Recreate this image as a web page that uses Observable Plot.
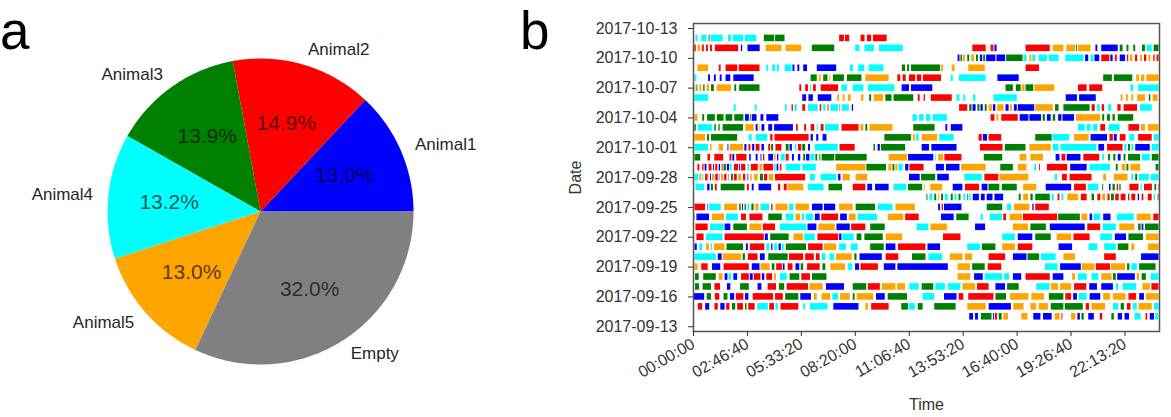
<!DOCTYPE html>
<html><head><meta charset="utf-8">
<script src="https://cdn.jsdelivr.net/npm/d3@7"></script>
<script src="https://cdn.jsdelivr.net/npm/@observablehq/plot@0.6"></script>
<style>
body{margin:0;background:#fff;font-family:"Liberation Sans",Arial,sans-serif;}
#wrap{position:relative;width:1171px;height:417px;overflow:hidden;background:#fff;}
.panel{position:absolute;top:0;}
.letter{position:absolute;font-size:53px;line-height:normal;color:#000;white-space:nowrap;}
</style></head>
<body><div id="wrap">
<div id="pa" class="panel" style="left:0;width:520px;height:417px"></div>
<div id="pb" class="panel" style="left:520px;width:651px;height:417px"></div>
<div class="letter" style="left:0px;top:0px">a</div>
<div class="letter" style="left:520px;top:0px">b</div>
</div>
<script>
// ---------- panel a data ----------
const pieLabels = ["Animal1","Animal2","Animal3","Animal4","Animal5","Empty"];
const pieValues = [13.0, 14.9, 13.9, 13.2, 13.0, 32.0];
const pieColors = ["#0000ff","#ff0000","#008000","#00ffff","#ffa500","#808080"];

// ---------- panel b data ----------
const animals = ["Animal1","Animal2","Animal3","Animal4","Animal5"];
const animalCodes = ["b","r","g","c","o"];
const animalColors = ["#0000ff","#ff0000","#008000","#00ffff","#ffa500"];
const rowDates = ["2017-09-14","2017-09-15","2017-09-16","2017-09-17","2017-09-18","2017-09-19","2017-09-20","2017-09-21","2017-09-22","2017-09-23","2017-09-24","2017-09-25","2017-09-26","2017-09-27","2017-09-28","2017-09-29","2017-09-30","2017-10-01","2017-10-02","2017-10-03","2017-10-04","2017-10-05","2017-10-06","2017-10-07","2017-10-08","2017-10-09","2017-10-10","2017-10-11","2017-10-12"];
// visits per day: start-end (hours) + animal code
const rowVisits = [
"14.2-14.45b 14.5-14.7b 14.8-15.4g 15.42-15.52b 15.52-15.68r 15.72-15.92g 15.95-16.25o 16.88-17.25o 17.5-17.92b 18.0-18.5b 18.6-18.9o 18.95-19.05r 19.45-19.72o 19.77-19.95b 19.98-20.15g 20.33-20.67b 20.92-21.1r 21.52-21.7g 21.85-22.12b 22.2-22.48b 22.72-23.08c 23.28-23.42r 23.5-23.77b 23.78-23.98c",
"0.22-0.5r 0.6-0.86b 1.08-1.3r 1.38-1.65b 1.68-1.9r 1.98-2.2g 2.25-2.6r 2.65-2.78g 2.82-3.2r 3.28-3.88c 3.9-4.2r 4.22-4.4c 4.48-5.45r 5.65-5.8c 6.0-6.95c 7.2-8.55b 8.85-9.03o 9.15-10.1r 10.7-11.1g 11.1-11.45c 11.55-11.85g 12.4-13.55g 14.1-15.1o 15.2-16.4b 16.47-17.05o 17.35-17.7o 17.78-18.3o 18.4-19.1g 19.12-20.1g 20.2-20.42r 20.5-21.25o 21.6-21.92c 22.0-22.22g 22.32-22.56r 22.62-22.88c 22.92-23.65o 23.72-24c",
"0.02-0.6b 0.68-0.95g 1.1-1.38r 1.55-1.8g 1.88-2.15b 2.18-2.62r 2.65-2.88b 3.05-4.15r 4.2-4.65r 4.72-5.45g 5.5-6.1b 6.2-6.4o 6.6-7.1o 7.15-7.5c 7.55-8.1o 8.2-8.35g 8.4-9.3o 9.4-9.9b 10.0-11.05g 11.8-12.45c 12.9-13.6b 13.65-13.95r 14.15-15.5r 15.55-16.15g 16.3-17.3o 17.4-18.1o 18.3-19.1g 19.15-19.5r 19.55-19.8b 19.85-20.3c 20.4-21.0b 21.1-21.5o 21.6-22.3o 22.4-22.85r 22.95-23.25b 23.3-24o",
"0.08-0.33g 0.47-0.95g 1.08-1.42r 1.72-1.95b 2.4-2.9g 3.3-3.55b 3.82-4.3r 4.4-4.72g 4.8-5.95r 5.98-6.7o 6.82-7.8b 8.2-8.95g 8.98-9.65r 9.7-10.45o 10.48-10.95o 11.12-11.65c 11.75-12.4g 12.45-13.0c 13.1-13.8c 13.85-14.55o 14.6-15.25r 15.55-16.1b 16.15-16.8g 17.65-18.38c 18.4-18.82o 18.88-19.5o 19.6-20.28r 20.38-20.83b 21.0-21.65b 21.75-21.92c 22.1-22.85c 23.12-23.55o 23.58-24r",
"0.08-0.32g 0.5-1.2g 1.3-1.55o 1.6-1.8b 1.8-2.0c 2.05-2.3b 2.45-2.9r 2.9-3.1b 3.1-3.5r 3.52-3.7b 3.75-4.1r 4.15-4.3o 4.45-4.85c 4.95-5.5g 5.55-6.05r 6.1-6.9g 13.6-14.3o 14.45-14.95b 15.0-15.95c 16.0-16.3c 16.45-16.93b 17.1-18.4r 18.5-19.1b 19.5-19.7o 19.8-20.3c 20.5-20.9c 21.0-21.58o 21.6-21.8g 21.82-22.78b 22.83-23.0o 23.08-23.35g 23.55-24c",
"0.05-0.26o 0.4-0.78r 0.95-1.43b 1.55-2.9r 3.0-3.45b 3.45-3.97o 4.03-4.22g 4.26-4.6r 4.6-4.74b 4.85-5.15r 5.25-5.5b 5.52-5.7g 5.85-6.55r 6.64-6.84g 7.05-7.85o 7.95-8.22c 8.32-8.58b 8.6-9.55r 9.8-10.45b 10.5-13.15b 13.6-14.3o 14.35-15.05g 15.15-15.9r 18.1-18.8c 18.88-20.0b 20.0-20.7o 20.72-21.5r 21.5-22.28o 22.33-22.5g 22.55-22.88c 22.95-23.85g",
"0.05-1.2c 1.25-1.5b 1.5-2.5o 2.53-2.7g 2.8-3.35r 3.42-3.72b 3.85-4.9g 4.92-5.7r 5.75-6.25r 6.3-6.55r 6.6-6.85c 7.0-7.3c 7.33-8.2o 8.28-8.45g 8.55-9.75b 9.9-10.6r 11.25-12.0g 12.1-12.85c 13.2-13.9o 13.98-14.4o 15.2-16.1r 16.45-17.2b 17.2-17.85g 17.9-18.7c 19.05-19.7o 21.15-21.8r 23.05-24b",
"0.05-0.22b 0.3-0.5c 0.65-0.85o 0.88-1.0c 1.05-1.65o 1.7-2.6g 2.7-2.85b 2.9-3.7r 3.75-3.95c 4.0-4.12b 4.15-4.35c 4.38-4.55b 4.55-4.7c 4.75-5.85g 5.9-6.7r 6.72-7.4o 7.5-7.9c 8.1-8.5c 9.1-9.85g 9.9-10.45b 10.53-12.0r 12.05-12.75b 14.1-14.8c 14.85-15.6g 15.9-16.6o 16.7-17.5r 18.8-19.55b 20.35-20.85c 21.15-21.8c 21.85-22.45g 22.55-22.75o 23.4-24o",
"0.15-0.57r 0.64-1.55c 1.6-3.67r 3.67-3.88b 3.95-4.95g 5.15-5.7o 5.7-6.3c 6.38-7.5r 7.5-7.67b 7.67-8.3c 8.4-8.7g 8.8-9.8g 9.9-10.8o 12.85-13.8r 15.9-16.6c 16.7-17.5b 17.6-18.45g 18.7-19.5o 19.57-20.45r 20.95-21.6c 21.7-22.33b 22.4-23.2g 23.3-24o",
"0.1-0.78r 0.85-1.6c 1.6-1.95b 2.05-2.8g 2.88-3.55o 3.57-4.25r 4.45-5.85c 5.87-6.38b 6.43-7.33o 7.36-8.1b 8.12-8.9r 9.1-9.9g 11.5-12.15c 12.2-13.1o 14.5-15.07b 16.45-17.28o 17.35-18.2g 18.35-20.2b 20.28-21.0r 21.07-21.8c 21.93-22.75o 22.9-23.08g 23.08-23.22b 23.25-24g",
"0.05-0.12g 0.15-0.85b 0.95-1.62o 1.68-2.33c 2.45-2.75r 2.88-3.6r 3.85-4.6g 4.75-5.2c 5.25-5.55o 5.58-5.75c 5.8-6.2c 6.25-6.55b 6.58-7.5r 7.55-7.95b 8.0-8.4o 8.45-9.5c 10.0-10.85o 10.9-11.65r 12.75-13.45b 13.53-14.22g 14.8-14.95c 15.25-15.94c 15.95-16.15r 16.28-16.97o 16.97-18.78r 18.78-19.95g 19.98-20.33o 20.4-20.58b 20.6-21.0c 21.1-21.53b 21.8-22.73c 22.82-23.6o 23.68-24r",
"0.05-0.65r 0.7-0.78b 0.8-1.45c 1.58-2.3o 2.35-2.48g 2.5-2.6b 2.63-2.75g 2.78-2.92c 2.98-3.15g 3.18-3.4o 3.45-3.95c 4.0-4.12r 4.22-4.9o 4.92-5.2c 5.25-6.0o 6.1-6.7b 6.72-7.35b 7.5-8.25o 8.35-9.4g 9.5-10.3c 10.4-11.45o 12.6-12.75b 12.78-12.9r 12.9-13.85b 15.1-15.95g 16.15-16.4c 16.5-17.35o 17.45-17.57b 17.6-18.35r",
"12.0-12.1g 12.15-12.35c 12.4-12.55g 12.6-12.7o 12.75-12.9g 12.95-13.15c 13.25-13.4g 13.45-13.6c 13.65-13.8g 13.9-14.05c 14.1-14.2g 14.2-14.33c 14.38-14.75b 14.8-15.05b 15.1-15.45b 15.5-16.0b 16.75-16.9g 16.98-17.28o 17.35-17.52g 17.6-18.4g 18.45-18.6c 18.75-18.9r 18.95-19.1c 19.25-19.85o 19.95-20.3r 20.5-20.68g 20.8-21.0r 21.05-21.25o 21.32-21.48r 21.5-21.7g 21.72-21.95r 22.0-22.3r 22.38-22.5g 22.55-22.8r 22.88-23.0b 23.08-23.22r 23.4-23.65r 23.7-23.82c 23.9-24r",
"0.1-0.6c 0.7-0.88b 0.9-1.05g 1.1-1.25r 1.4-2.68g 2.75-2.9r 3.0-3.15b 3.35-4.05b 4.35-4.52r 4.65-4.85r 4.85-5.7o 5.9-6.75c 6.95-7.7g 8.2-8.9r 8.95-9.25b 9.35-10.1b 10.3-11.0c 11.05-11.83g 11.88-11.97o 12.19-12.86o 13.35-13.9b 13.98-14.76r 14.84-15.19b 15.19-15.8g 15.88-16.7g 16.98-17.7o 18.14-19.5b 19.6-20.26r 20.3-20.9c 21.05-21.15g 21.4-21.53b 21.58-21.75g 21.8-21.92r 21.93-22.05g 22.45-22.97r 23.02-23.14c 23.2-23.66r 23.74-23.88g 23.92-24r",
"0.05-0.3c 0.3-0.45o 0.45-0.55c 0.6-0.78r 0.85-0.95b 0.95-1.12o 1.12-1.3r 1.3-1.38b 1.42-1.58o 1.58-1.75r 1.8-1.87b 1.93-2.08g 2.08-2.28r 2.3-2.5o 2.55-2.72r 2.78-2.87b 2.92-3.05o 3.12-3.35o 3.42-3.63g 3.63-3.85r 3.88-4.15o 4.2-5.8r 6.0-6.3c 6.55-7.4c 7.45-7.62b 7.68-8.1o 8.35-9.0o 11.1-11.7b 11.72-12.5g 12.55-13.2b 13.95-14.9c 14.98-15.75r 15.76-17.3o 18.6-18.77c 18.98-19.28r 19.37-20.55r 21.1-21.3o 21.65-22.4o 22.55-22.7c 22.75-22.9g 22.95-23.5c 23.55-24c",
"0.2-0.35r 0.45-0.57r 0.57-0.72b 0.78-0.98r 1.0-1.1b 1.12-1.28r 1.3-1.42b 1.45-1.55r 1.55-1.72g 1.72-1.88b 1.88-2.02c 2.08-2.35r 2.35-2.45b 2.45-2.72r 2.78-2.92c 2.95-3.36r 3.4-3.58o 3.6-4.15r 4.15-4.28c 4.28-4.42b 4.45-4.58r 4.75-5.55c 5.6-6.35c 7.35-8.9o 8.9-9.97g 10.04-10.25o 10.25-10.4g 10.4-10.55o 10.55-10.82c 10.9-11.12b 11.12-11.9r 12.48-12.95b 13.0-13.75b 13.78-15.1o 15.8-16.5g 16.7-17.2o 17.55-17.7c 17.8-17.9r 18.2-19.3r 19.4-20.3b 20.4-21.5c 21.75-21.9g 22.05-22.3o 22.3-22.45g 22.5-23.05o 23.8-24g",
"0.05-0.4g 0.72-0.9r 1.07-1.58r 1.85-2.0r 2.0-2.15b 2.2-2.78r 2.87-3.0b 3.2-3.35b 3.45-3.55b 3.58-3.7r 3.85-4.15b 4.15-4.28o 4.3-4.42b 4.5-4.75c 4.75-4.95r 5.07-5.22b 5.38-5.55b 5.65-5.8g 5.8-6.02b 6.02-6.28c 6.28-6.42g 6.48-6.58g 6.6-7.3g 7.3-8.97g 10.05-11.05o 11.05-12.4b 12.45-12.55c 12.6-12.9o 12.92-13.85r 14.95-15.95g 16.8-17.2o 17.35-18.05o 18.65-18.9b 18.95-19.2r 19.22-19.98b 20.08-20.95r 21.05-21.2c 21.35-21.5g 21.62-21.78g 21.85-22.05b 22.15-22.3g 22.38-23.05g 23.1-23.55c 23.6-24g",
"0.05-0.8c 0.85-0.98o 1.3-1.58o 1.75-1.85b 1.88-2.6o 2.62-2.78b 2.83-2.98r 3.02-3.18b 3.2-3.45r 3.5-3.68b 3.85-4.0r 4.0-4.15g 4.22-4.58r 4.75-4.95g 4.95-5.12b 5.22-5.35c 5.38-5.6r 5.6-5.8g 5.9-6.05b 6.25-7.48c 7.52-8.35r 9.27-9.4g 9.48-9.65b 9.65-10.95g 11.75-12.18b 12.25-13.6b 14.75-15.97r 16.03-17.15g 17.3-18.45o 18.5-18.85c 18.9-20.8c 20.85-21.2b 21.3-22.15r 22.18-22.35c 22.38-22.53g 22.55-22.7c 22.75-23.55b 23.6-24c",
"0.05-0.65o 0.7-0.85g 0.9-2.3g 2.85-3.05c 3.2-3.85c 3.95-4.12r 4.17-5.98r 6.03-6.2b 6.32-6.48b 6.65-6.9b 9.83-11.25g 11.3-11.45o 11.45-11.65c 11.75-12.6o 12.65-13.45c 14.68-14.9r 14.9-15.17b 15.2-15.9r 17.6-18.5g 18.5-19.4c 19.6-20.4o 20.45-21.35b 21.42-21.65r 21.65-21.85b 21.95-22.3r 22.45-22.75c 22.9-23.65r 23.7-24c",
"0.04-0.17g 0.22-1.0c 1.07-1.2g 1.28-1.4g 1.5-2.6g 2.67-3.15o 3.2-3.35b 3.35-3.45o 3.5-3.7b 3.85-4.1b 4.15-5.17b 5.28-5.42r 5.7-5.85r 6.03-6.27r 6.35-6.45c 6.55-6.75r 6.77-7.53c 7.62-8.55r 8.6-8.8o 8.85-9.0g 9.06-10.3o 11.32-12.47g 12.97-13.12b 13.25-13.9b 19.8-20.2c 20.25-20.5c 20.58-20.85c 20.95-21.25r 21.38-22.0c 22.4-23.0r 23.05-23.3o 23.4-24o",
"0.05-0.25o 0.45-0.6g 0.7-1.15g 1.2-1.6g 1.65-2.05g 2.1-2.62g 2.65-2.9b 2.9-3.0g 3.0-3.3b 3.45-3.65b 3.75-4.42b 11.28-11.55c 11.62-11.9c 11.97-12.25c 12.32-13.1c 15.3-15.55r 15.6-15.75o 15.85-16.75r 16.8-17.3b 17.3-17.95b 17.98-18.15g 18.2-18.45b 18.5-18.68g 18.78-19.0b 19.0-19.65b 19.7-21.0o 21.05-21.2g 21.3-21.5g 21.58-21.75g 21.85-22.7g",
"2.07-2.22c 3.15-3.3c 4.7-4.85c 5.05-5.17r 5.2-5.37c 5.6-5.8r 5.9-6.45c 6.5-6.63r 6.68-6.85c 6.9-7.0r 7.05-7.5c 7.52-7.6r 7.63-8.05c 8.15-8.27b 13.68-14.15r 14.2-14.37g 14.37-14.58b 14.62-14.78g 14.78-14.95b 15.0-15.15g 15.2-15.42o 15.42-15.6b 15.64-16.02o 16.07-16.28b 16.3-16.45o 16.5-16.7b 16.7-17.6b 17.6-18.55o 18.62-18.85g 19.05-20.45g 20.5-20.72r 20.77-20.98c 21.02-21.2r 21.35-21.57c 21.83-22.05r 22.15-22.9r 23.0-23.65c",
"0.05-0.8c 5.6-5.85b 5.92-6.2b 6.4-7.15b 7.4-7.55o 7.68-7.83o 7.95-8.15o 8.63-8.8o 9.05-9.2g 9.28-9.82o 9.88-10.25g 10.3-11.37g 11.55-11.7r 11.85-11.97r 12.22-13.35r 13.55-13.75c 13.9-14.05c 14.4-14.57c 15.45-16.7c 19.17-19.8b 19.86-20.77b 22.0-22.15o 22.27-22.42o 22.55-22.7o 22.85-23.3o 23.45-23.58g 23.65-23.95o",
"0.05-0.15o 0.15-0.25g 0.3-0.45o 0.5-0.62g 0.68-0.85o 0.9-1.1g 1.2-1.98o 2.1-2.25g 2.35-3.45g 5.45-5.6r 5.75-5.95r 6.0-6.1c 6.15-6.35r 6.55-7.5r 7.62-7.95c 8.2-8.8c 8.98-10.4c 10.72-11.15b 11.2-12.35b 16.07-16.5g 16.6-16.9g 16.9-17.1o 17.1-17.55g 17.56-18.63o 19.8-20.3r 20.38-21.1r 22.5-22.7c 22.9-24c",
"0.05-0.2c 0.75-0.9b 1.05-1.2b 1.35-1.5b 1.65-1.95b 2.05-3.15b 6.03-6.4g 6.45-6.6o 6.68-6.95g 7.0-7.1o 7.18-7.8g 7.9-8.7g 8.85-10.1o 10.5-10.7r 10.77-10.98r 11.1-11.47r 11.5-11.78r 11.82-12.8r 13.25-13.4c 13.67-15.1c 15.65-16.8b 21.1-21.6g 21.65-22.65g 22.8-23.0o 23.05-23.27o 23.32-24o",
"0.2-0.8o 1.3-1.45r 1.65-2.3r 2.33-3.45r 3.75-3.9c 4.05-4.25c 4.3-4.45c 4.7-5.1c 5.1-5.25b 5.35-5.5b 5.65-5.9b 6.35-7.4b 8.05-8.27c 8.48-8.85c 9.02-9.83c 10.73-10.95g 11.0-11.15g 11.2-12.75g 12.75-12.9o 13.3-13.5o 14.15-15.05o 17.1-17.85r",
"13.6-13.75b 13.75-13.88g 13.88-14.03o 14.1-14.25g 14.3-14.5o 14.55-14.7g 14.75-14.92b 14.92-15.07g 15.07-15.6b 15.6-16.1b 16.1-17.0g 17.0-17.2c 17.3-17.45o 17.45-17.65c 17.78-18.25c 18.3-18.85c 19.15-20.13c 20.17-20.38b 20.45-20.65c 20.65-20.95b 21.0-21.47r 21.47-21.64b 21.7-21.85r 21.95-22.28b 22.32-22.44r 22.48-22.65o 22.74-22.9r 23.0-23.15o 23.2-23.37r 23.43-23.58o 23.68-23.8r 23.85-24r",
"0.04-0.17r 0.21-0.38o 0.43-0.58r 0.64-0.79r 0.85-1.0r 1.1-2.35r 2.44-2.56b 2.78-3.46b 3.72-4.58o 4.74-5.6o 6.09-7.3g 8.33-8.6c 8.8-9.35c 9.55-10.83c 14.36-15.1r 15.3-15.5r 15.5-15.66b 17.1-18.4r 18.5-19.1o 19.2-19.7o 19.7-19.8g 19.8-20.5o 20.7-20.85b 21.0-21.9b 21.95-22.15g 22.3-22.45g 22.65-22.8g 23.1-23.3g 23.35-23.65c 23.7-24g",
"0.1-0.26c 0.4-0.72c 0.78-0.88g 0.88-1.55c 1.78-1.98c 2.03-2.6c 2.65-3.28c 3.62-4.2g 4.2-4.74g 7.5-7.8r 7.8-8.07r 8.6-8.86r 8.93-9.2r 9.24-10.0r"
];
const xTickSeconds = [0, 10000, 20000, 30000, 40000, 50000, 60000, 70000, 80000];
const yTickDates = ["2017-09-13","2017-09-16","2017-09-19","2017-09-22","2017-09-25","2017-09-28","2017-10-01","2017-10-04","2017-10-07","2017-10-10","2017-10-13"];

const FONT = '"Liberation Sans", Arial, Helvetica, sans-serif';

// ---------- panel a ----------
{
  const total = d3.sum(pieValues);
  const pts = [], inner = [], outer = [];
  let cum = 0;
  pieValues.forEach((v, i) => {
    const a0 = 2 * Math.PI * cum / total;
    const a1 = 2 * Math.PI * (cum + v) / total;
    cum += v;
    pts.push({label: pieLabels[i], x: 0, y: 0});
    const n = Math.max(2, Math.ceil((a1 - a0) / (Math.PI / 180)));
    for (let k = 0; k <= n; k++) {
      const a = a0 + (a1 - a0) * k / n;
      pts.push({label: pieLabels[i], x: Math.cos(a), y: Math.sin(a)});
    }
    const am = (a0 + a1) / 2;
    inner.push({x: 0.6 * Math.cos(am), y: 0.6 * Math.sin(am), t: v.toFixed(1) + "%"});
    outer.push({x: 1.1 * Math.cos(am), y: 1.1 * Math.sin(am), t: pieLabels[i]});
  });
  const R = 153, cx = 260, cy = 211;
  const pa = Plot.plot({
    width: 520, height: 417, margin: 0,
    style: {fontFamily: FONT, background: "transparent", overflow: "visible"},
    x: {domain: [-cx / R, (520 - cx) / R], axis: null},
    y: {domain: [-(417 - cy) / R, cy / R], axis: null},
    color: {domain: pieLabels, range: pieColors},
    marks: [
      Plot.line(pts, {x: "x", y: "y", z: "label", fill: "label", stroke: null, curve: "linear-closed"}),
      Plot.text(inner, {x: "x", y: "y", text: "t", fontSize: 21, fill: "#000", fillOpacity: 0.68}),
      Plot.text(outer.filter(d => d.x >= 0), {x: "x", y: "y", text: "t", textAnchor: "start", fontSize: 17, fill: "#262626"}),
      Plot.text(outer.filter(d => d.x < 0), {x: "x", y: "y", text: "t", textAnchor: "end", fontSize: 17, fill: "#262626"})
    ]
  });
  document.getElementById("pa").appendChild(pa);
}

// ---------- panel b ----------
{
  const DAY = 86400000;
  const parseDay = s => new Date(s + "T00:00:00Z");
  const segs = [];
  rowDates.forEach((ds, i) => {
    const t = parseDay(ds).getTime();
    const re = /([\d.]+)-([\d.]+)([brgco])/g;
    let m;
    while ((m = re.exec(rowVisits[i])) !== null) {
      segs.push({
        x1: +m[1] * 3600, x2: +m[2] * 3600,
        y1: new Date(t - 0.33 * DAY), y2: new Date(t + 0.33 * DAY),
        animal: animals[animalCodes.indexOf(m[3])]
      });
    }
  });
  const fmt = s => {
    const h = Math.floor(s / 3600), mi = Math.floor((s % 3600) / 60), se = s % 60;
    return [h, mi, se].map(v => String(v).padStart(2, "0")).join(":");
  };
  const pb = Plot.plot({
    width: 651, height: 417,
    marginLeft: 173, marginRight: 12, marginTop: 23, marginBottom: 86,
    style: {fontFamily: FONT, fontSize: "16px", color: "#333", background: "transparent", overflow: "visible"},
    x: {domain: [0, 86400]},
    y: {type: "utc", domain: [new Date(Date.UTC(2017, 8, 12, 12, 30)), new Date(Date.UTC(2017, 9, 13, 12, 0))]},
    color: {domain: animals, range: animalColors},
    marks: [
      Plot.rect(segs, {x1: "x1", x2: "x2", y1: "y1", y2: "y2", fill: "animal", insetLeft: 0.5, insetRight: 0.5}),
      Plot.frame({stroke: "#555", strokeWidth: 1.5}),
      Plot.axisX({ticks: xTickSeconds, tickFormat: fmt, tickRotate: -30, tickSize: 5, tickPadding: 6, fontSize: 16,
                  label: "Time", labelAnchor: "center", labelArrow: "none", labelOffset: 78}),
      Plot.axisY({ticks: yTickDates.map(parseDay), tickFormat: d3.utcFormat("%Y-%m-%d"), tickSize: 5, tickPadding: 11, fontSize: 16,
                  label: "Date", labelAnchor: "center", labelArrow: "none", labelOffset: 124})
    ]
  });
  document.getElementById("pb").appendChild(pb);
}
</script>
</body></html>
